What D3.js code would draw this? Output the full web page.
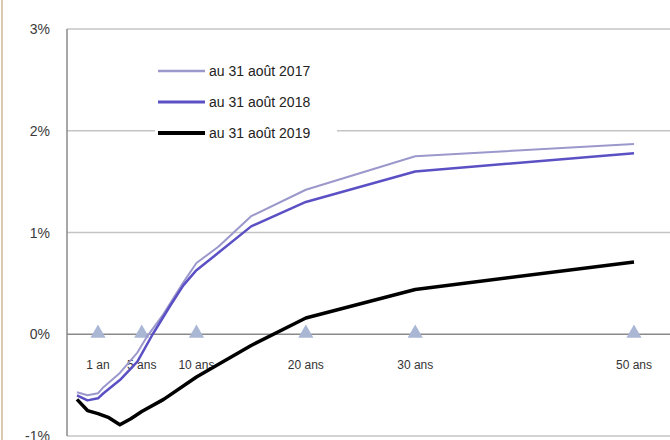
<!DOCTYPE html>
<html>
<head>
<meta charset="utf-8">
<script src="https://cdn.jsdelivr.net/npm/d3@7"></script>
<style>
  body { margin: 0; background: #fff; }
  svg { display: block; font-family: "Liberation Sans", Arial, sans-serif; }
</style>
</head>
<body>
<svg id="plot"></svg>
<script>
const WIDTH = 670;
const HEIGHT = 440;

// maturities in years, yields in %
const maturities2017 = [0, 0.5, 1, 1.5, 3, 4.6, 5.5, 7, 8.8, 10, 12, 15, 20, 30, 50];
const yields2017 = [-0.57, -0.60, -0.58, -0.52, -0.38, -0.18, -0.02, 0.20, 0.51, 0.70, 0.86, 1.16, 1.42, 1.75, 1.87];

const maturities2018 = [0, 0.5, 1, 1.5, 3, 4.6, 6, 7.6, 8.8, 10, 12, 15, 20, 30, 50];
const yields2018 = [-0.60, -0.65, -0.63, -0.58, -0.45, -0.27, 0.00, 0.28, 0.48, 0.63, 0.80, 1.06, 1.30, 1.60, 1.78];

const maturities2019 = [0, 0.5, 1, 2, 3, 4, 5, 7, 10, 15, 20, 25, 30, 50];
const yields2019 = [-0.64, -0.75, -0.78, -0.82, -0.89, -0.83, -0.76, -0.64, -0.42, -0.11, 0.16, 0.30, 0.44, 0.71];

const seriesNames = ['au 31 août 2017', 'au 31 août 2018', 'au 31 août 2019'];
const seriesColors = ['#9b98cc', '#5b50c4', '#000000'];
const seriesWidths = [2, 2.5, 3.5];

const markerMaturities = [1, 5, 10, 20, 30, 50];
const markerLabels = ['1 an', '5 ans', '10 ans', '20 ans', '30 ans', '50 ans'];

const yTicks = [-1, 0, 1, 2, 3];

function start() {
    const margin = { left: 67, top: 29, right: 0, bottom: 3 };
    const plotW = WIDTH - margin.left - margin.right;
    const plotH = HEIGHT - margin.top - margin.bottom;

    let svg = d3.select('#plot')
        .attr('width', WIDTH)
        .attr('height', HEIGHT);

    // thin border at the far left of the picture
    svg.append('line')
        .attr('x1', 2).attr('x2', 2).attr('y1', 0).attr('y2', HEIGHT)
        .attr('stroke', '#d9cbb0').attr('stroke-width', 2);

    let chart = svg.append('g')
        .attr('transform', `translate(${margin.left}, ${margin.top})`);

    // short end is stretched like in the source chart
    let xScale = d3.scaleLinear()
        .domain([0, 1, 50])
        .range([10, 31, 567]);

    let yScale = d3.scaleLinear()
        .domain([-1, 3])
        .range([plotH - 1, 0]);

    // gridlines
    chart.append('g')
        .selectAll('line')
        .data(yTicks)
        .enter().append('line')
            .attr('x1', 0)
            .attr('x2', plotW)
            .attr('y1', d => yScale(d))
            .attr('y2', d => yScale(d))
            .attr('stroke', d => d === 0 ? '#8a8a8a' : '#c4c4c4')
            .attr('stroke-width', 1.5);

    // left axis
    chart.append('line')
        .attr('x1', 0).attr('x2', 0)
        .attr('y1', yScale(3)).attr('y2', yScale(-1))
        .attr('stroke', '#8a8a8a').attr('stroke-width', 1.5);

    // y labels
    svg.append('g')
        .selectAll('text')
        .data(yTicks)
        .enter().append('text')
            .attr('x', 50)
            .attr('y', d => margin.top + yScale(d) + 5)
            .attr('text-anchor', 'end')
            .attr('font-size', 14)
            .attr('fill', '#3a3a3a')
            .text(d => d + '%');

    // maturity markers on the 0% line
    let tri = d3.symbol().type(d3.symbolTriangle).size(100);
    chart.append('g')
        .selectAll('path')
        .data(markerMaturities)
        .enter().append('path')
            .attr('d', tri)
            .attr('transform', d => `translate(${xScale(d)}, ${yScale(0) - 1})`)
            .attr('fill', '#a9b7d4');

    chart.append('g')
        .selectAll('text')
        .data(markerMaturities)
        .enter().append('text')
            .attr('x', d => xScale(d))
            .attr('y', yScale(0) + 35)
            .attr('text-anchor', 'middle')
            .attr('font-size', 12)
            .attr('fill', '#333')
            .text((d, i) => markerLabels[i]);

    // curves
    let series = [
        maturities2017.map((m, i) => ({ m: m, v: yields2017[i] })),
        maturities2018.map((m, i) => ({ m: m, v: yields2018[i] })),
        maturities2019.map((m, i) => ({ m: m, v: yields2019[i] })),
    ];

    let line = d3.line()
        .x(d => xScale(d.m))
        .y(d => yScale(d.v));

    chart.append('g')
        .selectAll('path')
        .data(series)
        .enter().append('path')
            .attr('d', line)
            .attr('fill', 'none')
            .attr('stroke', (d, i) => seriesColors[i])
            .attr('stroke-width', (d, i) => seriesWidths[i])
            .attr('stroke-linejoin', 'round');

    // legend
    let legend = svg.append('g');
    legend.append('rect')
        .attr('x', 155).attr('y', 55)
        .attr('width', 182).attr('height', 92)
        .attr('fill', '#fff');

    let rows = legend.selectAll('g')
        .data(seriesNames)
        .enter().append('g')
            .attr('transform', (d, i) => `translate(158, ${71 + i * 31})`);
    rows.append('line')
        .attr('x1', 0).attr('x2', 47)
        .attr('stroke', (d, i) => seriesColors[i])
        .attr('stroke-width', (d, i) => seriesWidths[i] + 0.5);
    rows.append('text')
        .attr('x', 51)
        .attr('y', 5)
        .attr('font-size', 14)
        .attr('fill', '#222')
        .text(d => d);
}

window.onload = start;
</script>
</body>
</html>
